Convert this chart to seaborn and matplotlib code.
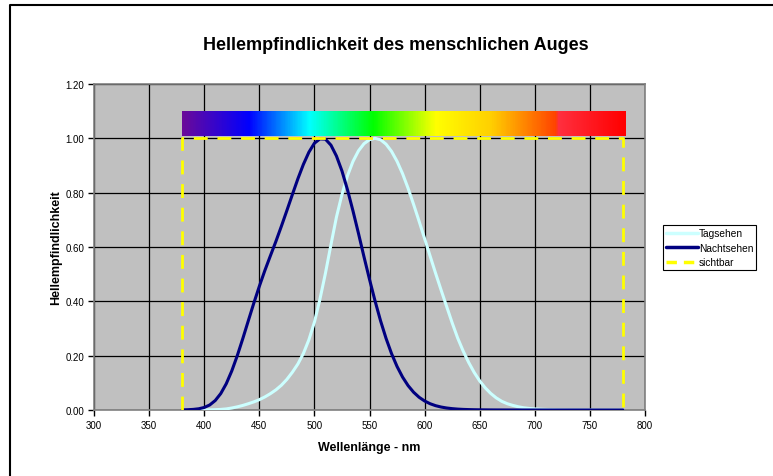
import numpy as np
import pandas as pd
import matplotlib.pyplot as plt
from matplotlib.colors import LinearSegmentedColormap
from matplotlib.lines import Line2D
import seaborn as sns

# wavelength in nm, 5 nm steps
wavelength = list(range(380, 785, 5))

# photopic (Tagsehen)
tag = [0.00004, 0.00006, 0.00012, 0.00022, 0.0004, 0.00064, 0.0012, 0.0022, 0.004, 0.0073,
       0.0116, 0.0168, 0.023, 0.0298, 0.038, 0.048, 0.06, 0.0739, 0.091, 0.1126,
       0.139, 0.1693, 0.208, 0.2586, 0.323, 0.4073, 0.503, 0.6082, 0.71, 0.7932,
       0.862, 0.9149, 0.954, 0.9803, 0.995, 1.0, 0.995, 0.9786, 0.952, 0.9154,
       0.87, 0.8163, 0.757, 0.6949, 0.631, 0.5668, 0.503, 0.4412, 0.381, 0.321,
       0.265, 0.217, 0.175, 0.1382, 0.107, 0.0816, 0.061, 0.0446, 0.032, 0.0232,
       0.017, 0.0119, 0.0082, 0.0057, 0.0041, 0.0029, 0.0021, 0.0015, 0.001, 0.0007,
       0.0005, 0.00036, 0.00025, 0.00017, 0.00012, 0.00008, 0.00006, 0.00004, 0.00003, 0.00002,
       0.000015]

# scotopic (Nachtsehen)
nacht = [0.0006, 0.0011, 0.0022, 0.0045, 0.0093, 0.0185, 0.0348, 0.0604, 0.0966, 0.1436,
         0.1998, 0.2625, 0.3281, 0.3931, 0.455, 0.513, 0.567, 0.62, 0.676, 0.734,
         0.793, 0.851, 0.904, 0.949, 0.982, 0.998, 0.997, 0.975, 0.935, 0.88,
         0.811, 0.733, 0.65, 0.564, 0.481, 0.402, 0.3288, 0.2639, 0.2076, 0.1602,
         0.1212, 0.0899, 0.0655, 0.0469, 0.0332, 0.0231, 0.0159, 0.0109, 0.0074, 0.005,
         0.0033, 0.0022, 0.0015, 0.001, 0.0007, 0.0005, 0.0003, 0.0002, 0.00015, 0.0001,
         0.00007, 0.00005, 0.00004, 0.00003, 0.00002, 0.00001, 0.00001, 0.0, 0.0, 0.0,
         0.0, 0.0, 0.0, 0.0, 0.0, 0.0, 0.0, 0.0, 0.0, 0.0,
         0.0]

# visible range box
sicht_x = [380, 380, 780, 780]
sicht_y = [0, 1.0, 1.0, 0]

# spectrum bar colour stops
spec_nm = [380, 440, 495, 553, 610, 660, 720, 721, 782]
spec_col = ["#6a0a9a", "#0000ff", "#00ffff", "#00ff00", "#ffff00", "#ffd000",
            "#ff4000", "#ff3040", "#ff0000"]
spec_range = (380, 782, 1.008, 1.100)

df = pd.DataFrame({"nm": wavelength, "Tagsehen": tag, "Nachtsehen": nacht})

sns.set_style("whitegrid", {"axes.facecolor": "#c0c0c0", "grid.color": "black",
                            "axes.edgecolor": "#808080", "text.color": "black",
                            "axes.labelcolor": "black", "xtick.color": "black",
                            "ytick.color": "black"})
plt.rcParams["font.family"] = ["Liberation Sans", "DejaVu Sans"]

fig = plt.figure(figsize=(7.73, 4.77), dpi=100)
ax = fig.add_axes([94 / 773, 1 - 411 / 477, 551 / 773, 326 / 477])

# spectrum bar
pos = [(v - spec_nm[0]) / (spec_nm[-1] - spec_nm[0]) for v in spec_nm]
cmap = LinearSegmentedColormap.from_list("spec", list(zip(pos, spec_col)))
ax.imshow(np.linspace(0, 1, 600)[None, :], cmap=cmap, aspect="auto",
          extent=spec_range, zorder=2)

sns.lineplot(data=df, x="nm", y="Tagsehen", color="#ccffff", lw=2.2, ax=ax, zorder=3)
sns.lineplot(data=df, x="nm", y="Nachtsehen", color="#000080", lw=2.2, ax=ax, zorder=4)
ax.plot(sicht_x, sicht_y, color="#ffff00", lw=2, dashes=(5, 3.5), zorder=5)

ax.set_xlim(300, 800)
ax.set_ylim(0, 1.2)
ax.set_xticks(range(300, 801, 50))
ax.set_yticks(np.arange(0, 1.21, 0.2))
ax.set_yticklabels([f"{v:.2f}" for v in np.arange(0, 1.21, 0.2)])
ax.grid(True, color="black", lw=0.9)
ax.set_axisbelow(True)
ax.tick_params(axis="both", labelsize=7, direction="out", length=4, width=1,
               color="black", labelcolor="black", left=True, bottom=True, pad=3)
for s in ax.spines.values():
    s.set_linewidth(1.2)

ax.set_xlabel("Wellenlänge - nm", fontsize=9, fontweight="bold", labelpad=8,
              color="black")
ax.set_ylabel("Hellempfindlichkeit", fontsize=9, fontweight="bold", labelpad=2,
              color="black")
fig.text(396 / 773, 1 - 45 / 477, "Hellempfindlichkeit des menschlichen Auges",
         ha="center", va="center", fontsize=13, fontweight="bold", color="black")

handles = [Line2D([], [], color="#ccffff", lw=2.5),
           Line2D([], [], color="#000080", lw=2.5),
           Line2D([], [], color="#ffff00", lw=2.5, dashes=(3, 2))]
leg = ax.legend(handles, ["Tagsehen", "Nachtsehen", "sichtbar"], loc="upper left",
                bbox_to_anchor=(1.033, 0.567), fontsize=7.3, frameon=True,
                fancybox=False, edgecolor="black", facecolor="white", framealpha=1,
                borderpad=0.3, labelspacing=0.45, handlelength=3.1, handletextpad=0.1,
                borderaxespad=0)
leg.get_frame().set_linewidth(0.8)
for t in leg.get_texts():
    t.set_color("black")

# outer frame (top and left)
fig.add_artist(Line2D([9.5 / 773, 9.5 / 773, 1], [0, 1 - 6 / 477, 1 - 6 / 477],
                      color="black", lw=1.5, transform=fig.transFigure))

fig.savefig("out.png", dpi=100)
